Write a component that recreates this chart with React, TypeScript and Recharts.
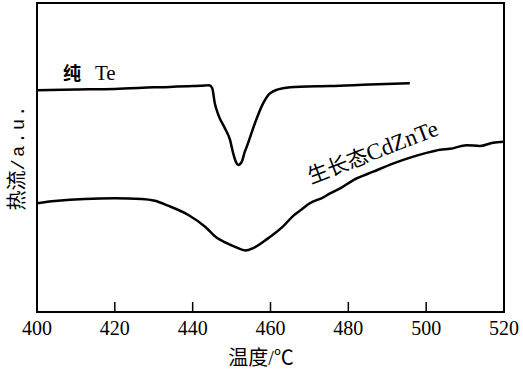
import React from "react";
import { LineChart, Line, XAxis, YAxis, ReferenceArea } from "recharts";

// Temperature ticks
const xTicks = [400, 420, 440, 460, 480, 500, 520];

// Pure Te curve (temperature °C, heat flow a.u.)
const teTemp = [400, 410, 420, 430, 440, 443.2, 444.2, 445.0, 445.7, 446.6, 448.3, 449.6, 450.4, 451.1, 451.7, 452.6, 453.4, 453.9, 456.0, 458.1, 459.9, 463.2, 467.6, 475.3, 485.6, 495.8];
const teFlow = [71.8, 72.0, 72.2, 72.7, 73.1, 73.3, 73.4, 72.5, 67.5, 63.8, 59.4, 55.7, 51.4, 48.6, 47.6, 48.6, 51.9, 53.5, 61.1, 67.5, 70.8, 72.4, 72.9, 73.1, 73.6, 74.0];

// As-grown CdZnTe curve
const czTemp = [400, 404.6, 412.3, 420.0, 426.9, 430.3, 433.7, 438.9, 443.2, 446.2, 448.2, 450.9, 453.6, 455.6, 459.0, 463.3, 465.9, 468.0, 470.1, 473.6, 475.3, 477.9, 481.3, 486.4, 491.6, 496.7, 500.1, 503.6, 506.1, 510.4, 513.8, 517.2, 519.8];
const czFlow = [35.2, 35.9, 36.6, 36.8, 36.6, 36.0, 34.4, 31.4, 27.6, 24.0, 22.6, 21.1, 19.9, 20.7, 23.5, 27.8, 31.2, 33.2, 35.2, 37.1, 38.4, 40.0, 42.7, 45.4, 48.1, 50.3, 51.5, 52.5, 52.8, 54.0, 53.7, 54.8, 55.1];

const teData = teTemp.map((t, i) => ({ t, v: teFlow[i] }));
const czData = czTemp.map((t, i) => ({ t, v: czFlow[i] }));

const SERIF = "'Liberation Serif', 'DejaVu Serif', serif";
const CJK = "'Noto Sans CJK SC'";
const MONO = "'Liberation Mono', monospace";

const Tick = (props: any) => {
  const { x, y, payload } = props;
  return (
    <g>
      <line x1={x} y1={y} x2={x} y2={y - 10} stroke="#000" strokeWidth={1.5} />
      <text x={x} y={y + 23} textAnchor="middle" fontFamily={SERIF} fontSize={20} fill="#000">
        {payload.value}
      </text>
    </g>
  );
};

export default function App() {
  return (
    <div style={{ position: "absolute", left: 0, top: 0, width: 523, height: 373, background: "#fff" }}>
      <LineChart
        width={523}
        height={373}
        margin={{ top: 3, right: 19, bottom: 31, left: 37 }}
      >
        <XAxis
          dataKey="t"
          type="number"
          domain={[400, 520]}
          ticks={xTicks}
          allowDuplicatedCategory={false}
          axisLine={false}
          tickLine={false}
          tickSize={0}
          tickMargin={0}
          height={30}
          tick={<Tick />}
          interval={0}
        />
        <YAxis type="number" domain={[0, 100]} hide />
        <ReferenceArea x1={400} x2={520} y1={0} y2={100} fill="none" stroke="#000" strokeWidth={2} ifOverflow="visible" />
        <Line data={teData} dataKey="v" type="monotone" stroke="#000" strokeWidth={2.5} dot={false} isAnimationActive={false} />
        <Line data={czData} dataKey="v" type="monotone" stroke="#000" strokeWidth={2.5} dot={false} isAnimationActive={false} />
      </LineChart>
      <svg width={523} height={373} style={{ position: "absolute", left: 0, top: 0, pointerEvents: "none" }}>
        <text x={261} y={365} textAnchor="middle" fill="#000" fontSize={20}>
          <tspan fontFamily={CJK}>温度</tspan>
          <tspan fontFamily={SERIF}>/</tspan>
          <tspan fontFamily={CJK}>℃</tspan>
        </text>
        <text transform="translate(24,157) rotate(-90)" textAnchor="middle" fill="#000" fontSize={20}>
          <tspan fontFamily={CJK}>热流</tspan>
          <tspan fontFamily={MONO} fontSize={19} letterSpacing={2}>/a.u.</tspan>
        </text>
        <text x={63} y={80} fill="#000">
          <tspan fontFamily={CJK} fontSize={18} fontWeight="bold">纯</tspan>
          <tspan x={95} fontFamily={SERIF} fontSize={21}>Te</tspan>
        </text>
        <text transform="translate(311,184) rotate(-21)" fill="#000">
          <tspan fontFamily={CJK} fontSize={21}>生长态</tspan>
          <tspan fontFamily={SERIF} fontSize={23}>CdZnTe</tspan>
        </text>
      </svg>
    </div>
  );
}
